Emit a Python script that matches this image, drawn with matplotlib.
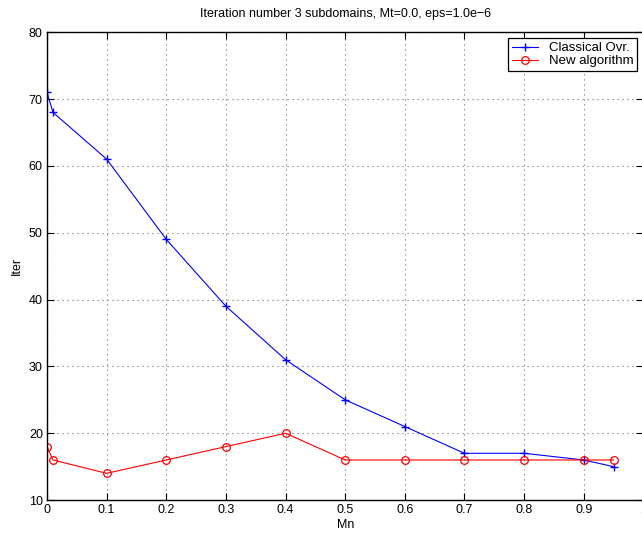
import matplotlib
matplotlib.use("Agg")
import matplotlib.pyplot as plt

plt.rcParams['font.family'] = ['Liberation Sans', 'DejaVu Sans']

# data
mn = [0.0, 0.01, 0.1, 0.2, 0.3, 0.4, 0.5, 0.6, 0.7, 0.8, 0.9, 0.95]
iter_classical = [71, 68, 61, 49, 39, 31, 25, 21, 17, 17, 16, 15]
iter_new = [18, 16, 14, 16, 18, 20, 16, 16, 16, 16, 16, 16]

fig = plt.figure(figsize=(6.42, 5.36), dpi=100)
ax = fig.add_axes([0.0732, 0.067, 0.929, 0.873])

ax.plot(mn, iter_classical, color='blue', marker='+', markersize=6, markeredgewidth=1.0,
        linewidth=0.8, label='Classical Ovr.')
ax.plot(mn, iter_new, color='red', marker='o', markersize=5.5, markerfacecolor='none',
        markeredgewidth=0.9, linewidth=0.8, label='New algorithm')

ax.set_xlim(0, 1)
ax.set_ylim(10, 80)
ax.set_xticks([0, 0.1, 0.2, 0.3, 0.4, 0.5, 0.6, 0.7, 0.8, 0.9, 1])
ax.set_xticklabels(['0', '0.1', '0.2', '0.3', '0.4', '0.5', '0.6', '0.7', '0.8', '0.9', '1'])
ax.set_yticks([10, 20, 30, 40, 50, 60, 70, 80])
ax.tick_params(direction='in', top=True, right=True, labelsize=9, length=5, pad=3)
ax.grid(True, linestyle=(0, (1, 3.5)), color='#707070', linewidth=0.8)
for sp in ax.spines.values():
    sp.set_linewidth(1.0)

ax.set_xlabel('Mn', fontsize=9, labelpad=2)
ax.set_ylabel('Iter', fontsize=9, labelpad=4)
ax.set_title('Iteration number 3 subdomains, Mt=0.0, eps=1.0e\u22126', fontsize=9, pad=11)

leg = ax.legend(loc='upper right', fontsize=9.5, fancybox=False, framealpha=1,
                edgecolor='black', borderpad=0.3, handlelength=2.0,
                labelspacing=0.05, borderaxespad=0.45)
leg.get_frame().set_linewidth(0.9)

fig.savefig('out.png', dpi=100)
